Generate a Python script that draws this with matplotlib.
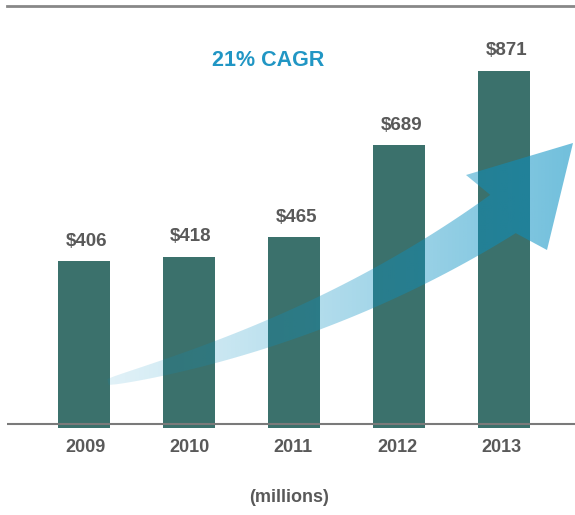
import numpy as np
import matplotlib
matplotlib.use('Agg')
import matplotlib.pyplot as plt
from matplotlib.patches import Polygon

plt.rcParams['font.family'] = ['Liberation Sans', 'DejaVu Sans']

# data (millions)
years = ['2009', '2010', '2011', '2012', '2013']
revenue = [406, 418, 465, 689, 871]
value_labels = ['$406', '$418', '$465', '$689', '$871']
cagr_text = '21% CAGR'
unit_text = '(millions)'

bar_color = '#3b716c'
text_color = '#595959'
W, H = 575, 515

fig = plt.figure(figsize=(W / 100, H / 100), dpi=100)
fig.patch.set_facecolor('white')

# main axes: bar bottom at pixel 428, top line at pixel 6
ax = fig.add_axes([7 / W, (H - 428) / H, (W - 7) / W, (428 - 6) / H])
x = np.arange(len(years))
ax.bar(x, revenue, width=0.5, color=bar_color, zorder=2)
ax.set_xlim(-0.733, 4.676)
ax.set_ylim(0, 1029)
ax.axhline(10, color='#7a7a7a', lw=1.5, zorder=3)

for s in ['left', 'right', 'bottom']:
    ax.spines[s].set_visible(False)
ax.spines['top'].set_color('#888888')
ax.spines['top'].set_linewidth(2)
ax.set_xticks([])
ax.set_yticks([])

for xi, v, lab in zip(x, revenue, value_labels):
    ax.text(xi + 0.02, v + 28, lab, ha='center', va='bottom', fontsize=13.5,
            fontweight='bold', color=text_color)

# overlay axes in pixel coordinates for the decorative arrow and free text
ov = fig.add_axes([0, 0, 1, 1], facecolor='none')
ov.set_xlim(0, W)
ov.set_ylim(H, 0)
ov.axis('off')

# curved arrow: centre line as a quadratic curve, widening towards the head
t = np.linspace(0, 1, 60)
p0, p1, p2 = np.array([108, 382]), np.array([330, 330]), np.array([503, 214])
cx = (1 - t) ** 2 * p0[0] + 2 * (1 - t) * t * p1[0] + t ** 2 * p2[0]
cy = (1 - t) ** 2 * p0[1] + 2 * (1 - t) * t * p1[1] + t ** 2 * p2[1]
dx = np.gradient(cx)
dy = np.gradient(cy)
n = np.hypot(dx, dy)
nx, ny = -dy / n, dx / n
half = 3 + 20 * t ** 0.7
upper = np.column_stack([cx - nx * half, cy - ny * half])
lower = np.column_stack([cx + nx * half, cy + ny * half])
if upper[-1, 1] > lower[-1, 1]:
    upper, lower = lower, upper
head = np.array([[466, 175], [573, 143], [547, 250]])
pts = np.vstack([upper, head, lower[::-1]])
arrow = Polygon(pts, closed=True, facecolor='none', edgecolor='none')
ov.add_patch(arrow)

gx = np.linspace(0, 1, 256)
alpha = 0.12 + 0.46 * gx ** 1.1
img = np.zeros((2, 256, 4))
img[..., 0] = 10 / 255
img[..., 1] = 145 / 255
img[..., 2] = 195 / 255
img[..., 3] = alpha
im = ov.imshow(img, extent=[100, 575, 400, 130], aspect='auto',
               interpolation='bilinear', zorder=5)
im.set_clip_path(arrow)
ov.set_xlim(0, W)
ov.set_ylim(H, 0)

ov.text(268, 60, cagr_text, ha='center', va='center', fontsize=15.5,
        fontweight='bold', color='#2196c4')
for xi, yr in zip([85, 189, 293, 397, 501], years):
    ov.text(xi, 448, yr, ha='center', va='center', fontsize=13,
            fontweight='bold', color=text_color)
ov.text(289, 497, unit_text, ha='center', va='center', fontsize=13,
        fontweight='bold', color=text_color)

fig.savefig('out.png', dpi=100, facecolor='white')
